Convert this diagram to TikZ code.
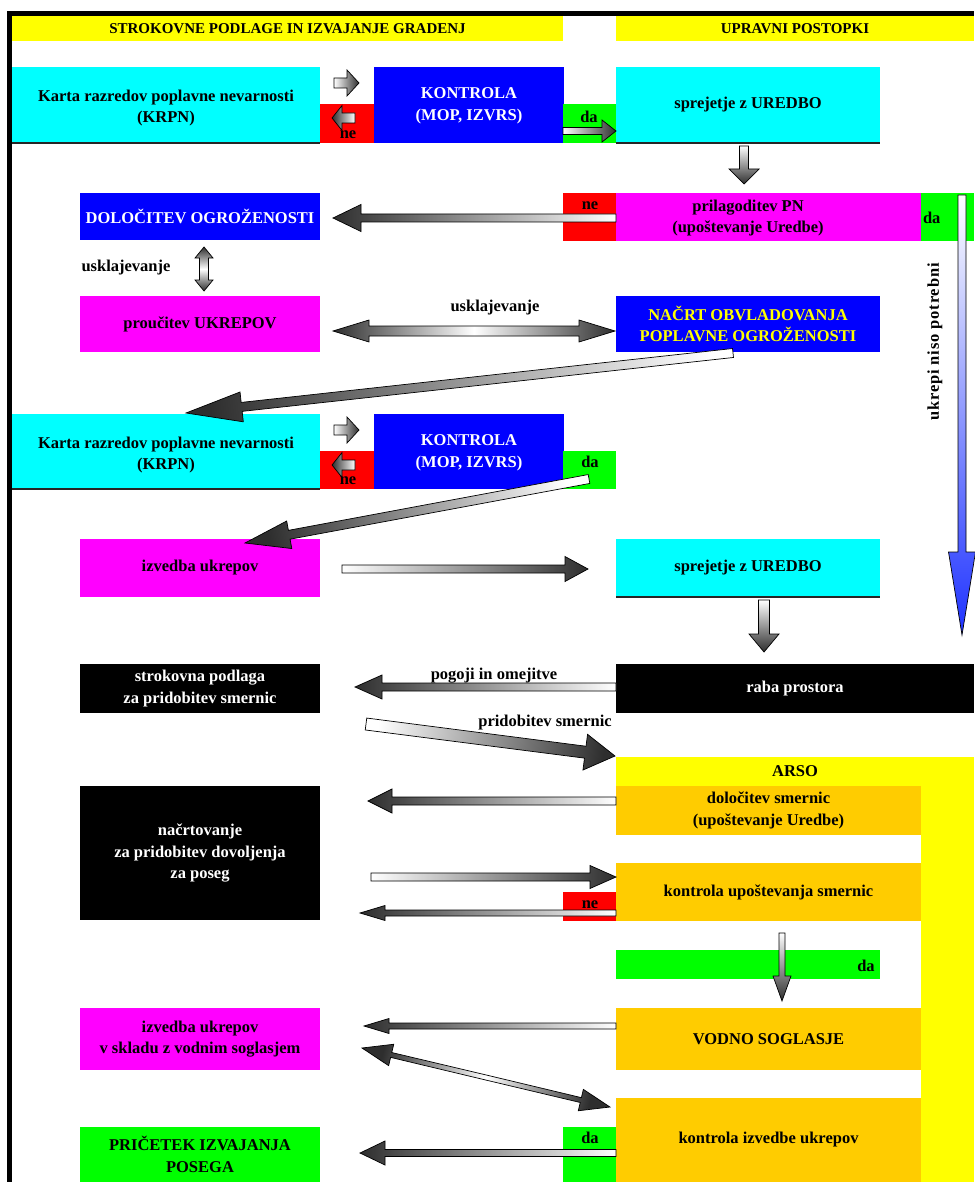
\documentclass[tikz,border=0pt]{standalone}
\usepackage{fontspec}
\setmainfont{Liberation Serif}
\usetikzlibrary{calc}
\definecolor{cyanC}{HTML}{00FFFF}
\definecolor{blueC}{HTML}{0000FF}
\definecolor{redC}{HTML}{FF0000}
\definecolor{greenC}{HTML}{00FF00}
\definecolor{magC}{HTML}{FF00FF}
\definecolor{yelC}{HTML}{FFFF00}
\definecolor{orC}{HTML}{FFCC00}
\definecolor{arrBlue}{HTML}{1E32FF}
\definecolor{darkA}{HTML}{2E2E2E}
\tikzset{
  bxs/.style={inner sep=0pt, outer sep=0pt, align=center, draw=none,
    font=\fontsize{16.5}{21.5}\selectfont\bfseries},
  txt/.style={inner sep=0pt, outer sep=0pt, align=center,
    font=\fontsize{16.5}{21.5}\selectfont\bfseries},
  hdr/.style={font=\fontsize{15}{18}\selectfont\bfseries},
  arrowline/.style={draw=black, line width=0.7pt, line join=miter},
  fwd/.style={top color=white, bottom color=darkA},
  blu/.style={top color=white, bottom color=arrBlue},
  dbl/.style={top color=darkA, bottom color=darkA, middle color=white},
  shadowline/.style={draw=black!85, line width=1.6pt}
}
% box: name, x1, y1, x2, y2, style, text
\newcommand{\bx}[7]{%
  \pgfmathsetmacro\bxw{#4-#2}\pgfmathsetmacro\bxh{#5-#3}%
  \node[bxs, #6, minimum width=\bxw pt, minimum height=\bxh pt, anchor=north west] (#1) at (#2,#3) {#7};%
}
% block arrow: [style] tail, tip, shaft half width, head half width, head length, page angle
\newcommand{\blockarrow}[7][fwd]{%
  \pgfmathsetmacro\baang{#7+90}%
  \coordinate (BAh) at ($(#3)!#6pt!(#2)$);%
  \path[arrowline,#1,shading angle=\baang] ($(#2)!#4pt!90:(#3)$) -- ($(BAh)!#4pt!90:(#3)$) -- ($(BAh)!#5pt!90:(#3)$) -- (#3) -- ($(BAh)!#5pt!-90:(#3)$) -- ($(BAh)!#4pt!-90:(#3)$) -- ($(#2)!#4pt!-90:(#3)$) -- cycle;%
}
\newcommand{\dblarrow}[7][dbl]{%
  \pgfmathsetmacro\baang{#7+90}%
  \coordinate (BAh) at ($(#3)!#6pt!(#2)$);%
  \coordinate (BAt) at ($(#2)!#6pt!(#3)$);%
  \path[arrowline,#1,shading angle=\baang] ($(BAt)!#4pt!90:(#3)$) -- ($(BAh)!#4pt!90:(#3)$) -- ($(BAh)!#5pt!90:(#3)$) -- (#3) -- ($(BAh)!#5pt!-90:(#3)$) -- ($(BAh)!#4pt!-90:(#3)$) -- ($(BAt)!#4pt!-90:(#3)$) -- ($(BAt)!#5pt!-90:(#3)$) -- (#2) -- ($(BAt)!#5pt!90:(#3)$) -- cycle;%
}
\begin{document}
\begin{tikzpicture}[x=1pt,y=-1pt]
\useasboundingbox (0,0) rectangle (974,1182);
\fill[white] (0,0) rectangle (974,1182);
% frame
\fill[black] (7,11) rectangle (974,16);
\fill[black] (7,11) rectangle (12,1182);
% headers
\bx{h1}{12}{16}{563}{41}{fill=yelC,hdr}{STROKOVNE PODLAGE IN IZVAJANJE GRADENJ}
\bx{h2}{616}{16}{974}{41}{fill=yelC,hdr}{UPRAVNI POSTOPKI}

% ---- row 1
\bx{krpn1}{12}{67}{320}{143}{fill=cyanC}{}
\node[txt] (tkrpn1) at (166,108) {Karta razredov poplavne nevarnosti\\(KRPN)};
\bx{ne1}{320}{104}{374}{143}{fill=redC}{}
\bx{kon1}{374}{67}{564}{143}{fill=blueC}{}
\node[txt,text=white] (tkon1) at (469,106) {KONTROLA\\(MOP, IZVRS)};
\bx{da1}{563}{104}{616}{143}{fill=greenC}{}
\bx{spr1}{616}{67}{880}{143}{fill=cyanC}{sprejetje z UREDBO}
\draw[shadowline] (krpn1.south west) -- (krpn1.south east);
\draw[shadowline] (spr1.south west) -- (spr1.south east);

% ---- row 2
\bx{dolo}{80}{193}{320}{240}{fill=blueC,text=white}{DOLOČITEV OGROŽENOSTI}
\bx{ne2}{563}{193}{616}{241}{fill=redC}{}
\bx{pril}{616}{193}{921}{241}{fill=magC}{}
\node[txt] (tpril) at (748,218) {prilagoditev PN\\(upoštevanje Uredbe)};
\bx{da2}{921}{193}{974}{241}{fill=greenC}{}

% ---- row 3
\bx{prou}{80}{296}{320}{352}{fill=magC}{proučitev UKREPOV}
\bx{nacrt}{616}{296}{880}{352}{fill=blueC,text=yelC}{NAČRT OBVLADOVANJA\\POPLAVNE OGROŽENOSTI}

% ---- row 4
\bx{krpn2}{12}{414}{320}{489}{fill=cyanC}{}
\node[txt] (tkrpn2) at (166,455) {Karta razredov poplavne nevarnosti\\(KRPN)};
\bx{ne3}{320}{451}{374}{489}{fill=redC}{}
\bx{kon2}{374}{414}{564}{489}{fill=blueC}{}
\node[txt,text=white] (tkon2) at (469,453) {KONTROLA\\(MOP, IZVRS)};
\bx{da3}{563}{451}{616}{489}{fill=greenC}{}
\draw[shadowline] (krpn2.south west) -- (krpn2.south east);

% ---- row 5
\bx{izv}{80}{539}{320}{597}{fill=magC}{izvedba ukrepov}
\bx{spr2}{616}{539}{880}{597}{fill=cyanC}{sprejetje z UREDBO}
\draw[shadowline] (spr2.south west) -- (spr2.south east);

% ---- row 6
\bx{strok}{80}{664}{320}{713}{fill=black,text=white}{strokovna podlaga\\za pridobitev smernic}
\bx{raba}{616}{664}{974}{713}{fill=black,text=white}{raba prostora}

% ---- ARSO
\bx{arso}{616}{757}{974}{786}{fill=yelC}{ARSO}
\bx{arsocol}{921}{786}{974}{1182}{fill=yelC}{}
\bx{smer}{616}{786}{921}{835}{fill=orC}{določitev smernic\\(upoštevanje Uredbe)}
\bx{nac}{80}{786}{320}{920}{fill=black,text=white}{načrtovanje\\za pridobitev dovoljenja\\za poseg}
\bx{kus}{616}{863}{921}{921}{fill=orC}{kontrola upoštevanja smernic}
\bx{ne4}{563}{892}{616}{921}{fill=redC}{}
\bx{dabar}{616}{950}{880}{979}{fill=greenC}{}
\bx{vod}{616}{1008}{921}{1070}{fill=orC}{VODNO SOGLASJE}
\bx{izv2}{80}{1008}{320}{1070}{fill=magC}{izvedba ukrepov\\v skladu z vodnim soglasjem}
\bx{kiu}{616}{1098}{921}{1182}{fill=orC}{kontrola izvedbe ukrepov}
\bx{da5}{563}{1127}{616}{1182}{fill=greenC}{}
\bx{pric}{80}{1127}{320}{1182}{fill=greenC}{PRIČETEK IZVAJANJA\\POSEGA}

% ---- connector end points
\coordinate (r1t) at (334,83);   \coordinate (r1h) at (359,83);
\coordinate (l1t) at (355,118);  \coordinate (l1h) at (332,118);
\coordinate (d1t) at (563,131);  \coordinate (d1h) at (616,131);
\coordinate (s1t) at (744,146);  \coordinate (s1h) at (744,184);
\coordinate (p1t) at (pril.west |- 0,218); \coordinate (p1h) at (333,218);
\coordinate (bvt) at (962,195);  \coordinate (bvh) at (962,635);
\coordinate (u1a) at (204,247);  \coordinate (u1b) at (204,291);
\coordinate (u2a) at (333,331);  \coordinate (u2b) at (615,331);
\coordinate (g1t) at (733,353);  \coordinate (g1h) at (186,413);
\coordinate (r2t) at (334,430);  \coordinate (r2h) at (359,430);
\coordinate (l2t) at (355,465);  \coordinate (l2h) at (332,465);
\coordinate (g2t) at (589,479);  \coordinate (g2h) at (245,543);
\coordinate (i1t) at (342,569);  \coordinate (i1h) at (588,569);
\coordinate (s2t) at (764,600);  \coordinate (s2h) at (764,652);
\coordinate (pot) at (raba.west |- 0,687); \coordinate (poh) at (355,687);
\coordinate (pst) at (366,724);  \coordinate (psh) at (615,756);
\coordinate (smt) at (smer.west |- 0,801); \coordinate (smh) at (368,801);
\coordinate (nat) at (371,877);  \coordinate (nah) at (kus.west |- 0,877);
\coordinate (net) at (kus.west |- 0,913); \coordinate (neh) at (360,913);
\coordinate (dvt) at (782,933);  \coordinate (dvh) at (782,1001);
\coordinate (vst) at (vod.west |- 0,1026); \coordinate (vsh) at (364,1026);
\coordinate (dba) at (362,1048); \coordinate (dbb) at (610,1107);
\coordinate (kit) at (kiu.west |- 0,1153); \coordinate (kih) at (360,1153);

% ---- arrows
\blockarrow{r1t}{r1h}{5}{13}{12}{0}
\blockarrow{l1t}{l1h}{5}{12.5}{10}{180}
\blockarrow{d1t}{d1h}{3.5}{11}{14}{0}
\blockarrow{s1t}{s1h}{4.5}{15}{15}{-90}
\blockarrow{p1t}{p1h}{4}{13.5}{28}{180}
\blockarrow[blu]{bvt}{bvh}{4}{13.5}{83}{-90}
\dblarrow{u1a}{u1b}{4.5}{9}{11}{-90}
\dblarrow{u2a}{u2b}{5}{11}{36}{0}
\blockarrow{g1t}{g1h}{4.5}{15}{56}{186.26}
\blockarrow{r2t}{r2h}{5}{13}{12}{0}
\blockarrow{l2t}{l2h}{5}{12.5}{10}{180}
\blockarrow{g2t}{g2h}{4.5}{14}{45}{190.54}
\blockarrow{i1t}{i1h}{4}{12.5}{23}{0}
\blockarrow{s2t}{s2h}{5.5}{15}{18}{-90}
\blockarrow{pot}{poh}{4}{12}{27}{180}
\blockarrow{pst}{psh}{6}{18}{30}{-7.32}
\blockarrow{smt}{smh}{4}{12}{24}{180}
\blockarrow{nat}{nah}{4}{11.5}{26}{0}
\blockarrow{net}{neh}{3}{7.5}{25}{180}
\blockarrow{dvt}{dvh}{3}{9}{25}{-90}
\blockarrow{vst}{vsh}{3}{7.5}{25}{180}
\dblarrow{dba}{dbb}{2.5}{11}{30}{-13.38}
\blockarrow{kit}{kih}{3.5}{12}{25}{180}

% ---- labels
\node[txt] (lne1) at (348,135) {ne};
\node[txt] (lda1) at (589,117) {da};
\node[txt] (lne2) at (590,206) {ne};
\node[txt,anchor=west] (lda2) at (923,218) {da};
\node[txt] (lne3) at (348,481) {ne};
\node[txt] (lda3) at (590,462) {da};
\node[txt] (lus1) at (126,268) {usklajevanje};
\node[txt] (lus2) at (495,308) {usklajevanje};
\node[txt] (lpog) at (494,676) {pogoji in omejitve};
\node[txt] (lpri) at (545,723) {pridobitev smernic};
\node[txt] (lne4) at (590,905) {ne};
\node[txt] (lda4) at (866,966) {da};
\node[txt] (lda5) at (590,1138) {da};
\node[txt,rotate=90] (lukr) at (935,342) {\addfontfeatures{LetterSpace=5}ukrepi niso potrebni};
\end{tikzpicture}
\end{document}
